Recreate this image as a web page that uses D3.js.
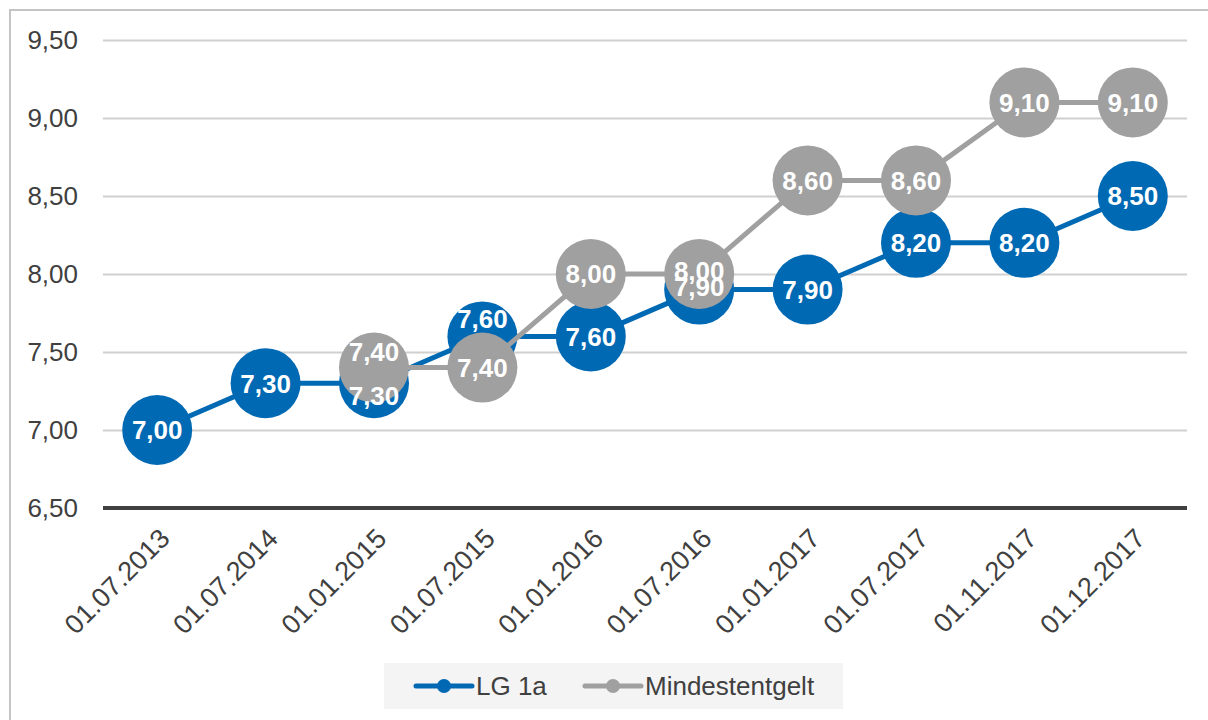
<!DOCTYPE html>
<html>
<head>
<meta charset="utf-8">
<script src="https://cdn.jsdelivr.net/npm/d3@7"></script>
<style>
  body { margin: 0; background: #fff; }
  svg text { font-family: "Liberation Sans", Arial, sans-serif; }
</style>
</head>
<body>
<svg id="svg1" width="1208" height="720"></svg>
<script>
// Categories (x axis) and series values
const categories = ['01.07.2013', '01.07.2014', '01.01.2015', '01.07.2015', '01.01.2016',
  '01.07.2016', '01.01.2017', '01.07.2017', '01.11.2017', '01.12.2017'];
const lgValues = [7.00, 7.30, 7.30, 7.60, 7.60, 7.90, 7.90, 8.20, 8.20, 8.50];
const mindestValues = [null, null, 7.40, 7.40, 8.00, 8.00, 8.60, 8.60, 9.10, 9.10];
const seriesNames = ['LG 1a', 'Mindestentgelt'];
const yTicks = [6.5, 7.0, 7.5, 8.0, 8.5, 9.0, 9.5];

const svg = d3.select('#svg1');
const width = +svg.attr('width');
const height = +svg.attr('height');

const blue = '#0069b4';
const grey = '#a0a0a0';
const fmt = v => d3.format('.2f')(v).replace('.', ',');

// outer frame (runs off right/bottom edge like the original)
svg.append('rect')
  .attr('x', 10).attr('y', 10)
  .attr('width', width).attr('height', height)
  .attr('fill', 'none').attr('stroke', '#c4c4c4').attr('stroke-width', 2);

const margin = { top: 40, right: 21, bottom: 212, left: 103 };
const innerWidth = width - margin.left - margin.right;
const innerHeight = height - margin.top - margin.bottom;

const g = svg.append('g')
  .attr('transform', `translate(${margin.left},${margin.top})`);

const xScale = d3.scaleBand().domain(categories).range([0, innerWidth]);
const yScale = d3.scaleLinear().domain([6.5, 9.5]).range([innerHeight, 0]);
const xPos = c => xScale(c) + xScale.bandwidth() / 2;

// gridlines + y tick labels
const yAxisG = g.append('g')
  .call(d3.axisLeft(yScale).tickValues(yTicks).tickFormat(fmt).tickSize(-innerWidth).tickPadding(25));
yAxisG.select('.domain').remove();
yAxisG.selectAll('.tick line').attr('stroke', '#d0d0d0').attr('stroke-width', 2);
yAxisG.selectAll('.tick text').attr('fill', '#404040').style('font-size', '26px');

// bottom axis line
g.append('line')
  .attr('x1', 0).attr('x2', innerWidth)
  .attr('y1', innerHeight).attr('y2', innerHeight)
  .attr('stroke', '#404040').attr('stroke-width', 4);

// x labels, rotated
const xAxisG = g.append('g')
  .attr('transform', `translate(0,${innerHeight})`)
  .call(d3.axisBottom(xScale).tickSize(0));
xAxisG.select('.domain').remove();
xAxisG.selectAll('.tick text')
  .attr('fill', '#404040')
  .style('font-size', '27px')
  .style('text-anchor', 'end')
  .attr('dy', 0)
  .attr('transform', 'translate(12,30) rotate(-45)');

const series = [
  { name: seriesNames[0], color: blue, values: lgValues },
  { name: seriesNames[1], color: grey, values: mindestValues }
];

const line = d3.line()
  .defined(d => d.v != null)
  .x(d => xPos(d.c))
  .y(d => yScale(d.v));

series.forEach(s => {
  const pts = categories.map((c, i) => ({ c, v: s.values[i] }));
  g.append('path')
    .datum(pts)
    .attr('fill', 'none')
    .attr('stroke', s.color)
    .attr('stroke-width', 5)
    .attr('d', line);
  g.selectAll(null).data(pts.filter(d => d.v != null))
    .enter().append('circle')
    .attr('cx', d => xPos(d.c))
    .attr('cy', d => yScale(d.v))
    .attr('r', 35)
    .attr('fill', s.color);
});

// label nudges where the two series collide (series index, category)
const nudge = {
  '0|01.01.2015': 12, '1|01.01.2015': -16,
  '0|01.07.2015': -18,
  '0|01.07.2016': -3, '1|01.07.2016': -3
};

series.forEach((s, si) => {
  const pts = categories.map((c, i) => ({ c, v: s.values[i] })).filter(d => d.v != null);
  g.selectAll(null).data(pts)
    .enter().append('text')
    .attr('x', d => xPos(d.c))
    .attr('y', d => yScale(d.v) + (nudge[si + '|' + d.c] || 0))
    .attr('dy', '0.36em')
    .attr('text-anchor', 'middle')
    .attr('fill', '#fff')
    .style('font-size', '26px')
    .style('font-weight', 'bold')
    .text(d => fmt(d.v));
});

// legend
const legend = svg.append('g').attr('transform', 'translate(384,663)');
legend.append('rect')
  .attr('width', 459).attr('height', 46)
  .attr('fill', '#f4f4f4');
const legendX = [32, 201];
series.forEach((s, i) => {
  const lg = legend.append('g').attr('transform', `translate(${legendX[i]},23)`);
  lg.append('line').attr('x1', 0).attr('x2', 56)
    .attr('stroke', s.color).attr('stroke-width', 5).attr('stroke-linecap', 'round');
  lg.append('circle').attr('cx', 28).attr('r', 7).attr('fill', s.color);
  lg.append('text').attr('x', 60).attr('dy', '0.36em')
    .attr('fill', '#404040').style('font-size', '26px')
    .text(s.name);
});
</script>
</body>
</html>
